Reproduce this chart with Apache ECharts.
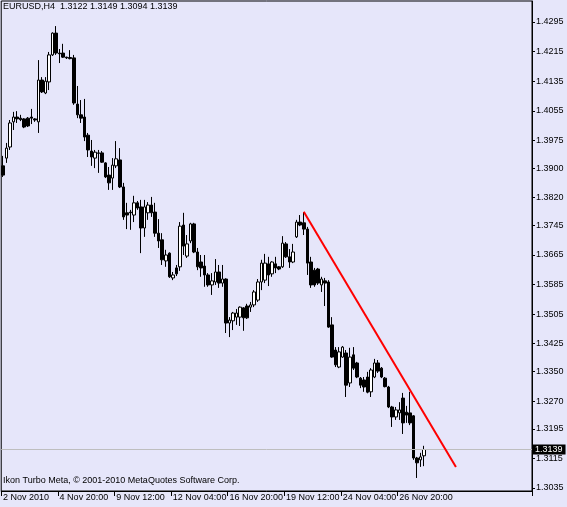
<!DOCTYPE html>
<html>
<head>
<meta charset="utf-8">
<script src="https://cdn.jsdelivr.net/npm/echarts@6/dist/echarts.min.js"></script>
<style>
html,body{margin:0;padding:0;background:#E6E6FA;}
#c{width:567px;height:507px;}
</style>
</head>
<body>
<div id="c"></div>
<script>
// ---- data (EURUSD, H4) ----
const symbolTitle = 'EURUSD,H4  1.3122 1.3149 1.3094 1.3139';
const copyrightText = 'Ikon Turbo Meta, \u00A9 2001-2010 MetaQuotes Software Corp.';

const opens = [
1.3906,1.3927,1.3957,1.4025,1.4038,1.4035,1.4033,1.4035,1.4038,1.4033,
1.4025,1.4138,1.4103,1.4133,1.4206,1.4265,1.4211,1.4211,1.4200,1.4199,
1.4198,1.4073,1.4044,1.4038,1.3989,1.3946,1.3927,1.3941,1.3941,1.3914,
1.3881,1.3873,1.3906,1.3922,1.3849,1.3779,1.3781,1.3773,1.3806,1.3795,
1.3738,1.3779,1.3800,1.3781,1.3724,1.3706,1.3649,1.3670,1.3603,1.3630,
1.3633,1.3746,1.3662,1.3703,1.3749,1.3673,1.3646,1.3635,1.3611,1.3584,
1.3592,1.3619,1.3589,1.3600,1.3481,1.3487,1.3497,1.3497,1.3522,1.3527,
1.3524,1.3530,1.3543,1.3592,1.3597,1.3641,1.3614,1.3641,1.3633,1.3633,
1.3695,1.3660,1.3646,1.3714,1.3754,1.3752,1.3735,1.3646,1.3624,1.3627,
1.3584,1.3595,1.3592,1.3476,1.3408,1.3362,1.3389,1.3400,1.3319,1.3395,
1.3373,1.3332,1.3327,1.3335,1.3295,1.3335,1.3373,1.3359,1.3332,1.3308,
1.3254,1.3227,1.3238,1.3278,1.3240,1.3238,1.3230,1.3116,1.3111,1.3122];
const highs = [
1.3933,1.3968,1.4030,1.4052,1.4054,1.4044,1.4035,1.4038,1.4060,1.4035,
1.4192,1.4146,1.4146,1.4214,1.4267,1.4284,1.4222,1.4236,1.4201,1.4219,
1.4206,1.4122,1.4084,1.4087,1.3995,1.3976,1.3949,1.3949,1.3946,1.3916,
1.3903,1.3927,1.3973,1.3954,1.3860,1.3806,1.3787,1.3825,1.3811,1.3814,
1.3814,1.3808,1.3822,1.3806,1.3762,1.3724,1.3679,1.3672,1.3619,1.3638,
1.3754,1.3779,1.3719,1.3752,1.3752,1.3684,1.3665,1.3665,1.3616,1.3616,
1.3654,1.3638,1.3638,1.3602,1.3497,1.3511,1.3519,1.3526,1.3524,1.3533,
1.3538,1.3570,1.3600,1.3652,1.3668,1.3660,1.3648,1.3660,1.3635,1.3716,
1.3700,1.3681,1.3695,1.3760,1.3773,1.3781,1.3741,1.3660,1.3630,1.3630,
1.3606,1.3603,1.3597,1.3497,1.3416,1.3416,1.3419,1.3408,1.3414,1.3416,
1.3376,1.3335,1.3335,1.3349,1.3359,1.3384,1.3381,1.3362,1.3335,1.3311,
1.3257,1.3254,1.3267,1.3292,1.3257,1.3295,1.3232,1.3119,1.3130,1.3149];
const lows = [
1.3876,1.3914,1.3949,1.4003,1.4022,1.4027,1.4008,1.4011,1.4019,1.4025,
1.3995,1.4103,1.4100,1.4111,1.4203,1.4206,1.4184,1.4198,1.4195,1.4194,
1.4071,1.4035,1.4022,1.3973,1.3930,1.3906,1.3900,1.3887,1.3914,1.3873,
1.3841,1.3841,1.3900,1.3846,1.3760,1.3735,1.3733,1.3754,1.3787,1.3670,
1.3714,1.3760,1.3768,1.3714,1.3684,1.3638,1.3633,1.3603,1.3597,1.3608,
1.3622,1.3665,1.3657,1.3697,1.3670,1.3624,1.3606,1.3579,1.3579,1.3557,
1.3584,1.3576,1.3579,1.3454,1.3443,1.3462,1.3476,1.3473,1.3460,1.3492,
1.3511,1.3524,1.3538,1.3570,1.3589,1.3581,1.3606,1.3616,1.3624,1.3630,
1.3657,1.3630,1.3643,1.3711,1.3743,1.3719,1.3611,1.3576,1.3579,1.3584,
1.3565,1.3527,1.3468,1.3387,1.3362,1.3359,1.3387,1.3281,1.3308,1.3354,
1.3332,1.3305,1.3295,1.3291,1.3281,1.3332,1.3346,1.3332,1.3307,1.3251,
1.3200,1.3219,1.3219,1.3181,1.3211,1.3205,1.3111,1.3062,1.3092,1.3094];
const closes = [
1.3881,1.3954,1.4022,1.4038,1.4033,1.4031,1.4011,1.4014,1.4035,1.4030,
1.4138,1.4106,1.4135,1.4206,1.4265,1.4211,1.4209,1.4200,1.4198,1.4196,
1.4076,1.4044,1.4035,1.3984,1.3949,1.3930,1.3943,1.3940,1.3916,1.3876,
1.3860,1.3908,1.3925,1.3849,1.3768,1.3773,1.3779,1.3806,1.3792,1.3738,
1.3795,1.3800,1.3779,1.3724,1.3703,1.3652,1.3665,1.3606,1.3611,1.3614,
1.3743,1.3689,1.3695,1.3749,1.3673,1.3633,1.3630,1.3611,1.3584,1.3595,
1.3619,1.3589,1.3600,1.3481,1.3489,1.3508,1.3508,1.3524,1.3495,1.3495,
1.3530,1.3565,1.3592,1.3643,1.3643,1.3611,1.3646,1.3630,1.3627,1.3697,
1.3660,1.3646,1.3673,1.3754,1.3746,1.3735,1.3643,1.3584,1.3584,1.3589,
1.3600,1.3589,1.3470,1.3389,1.3368,1.3403,1.3416,1.3313,1.3389,1.3359,
1.3335,1.3313,1.3308,1.3294,1.3354,1.3373,1.3351,1.3335,1.3309,1.3254,
1.3227,1.3246,1.3246,1.3211,1.3232,1.3211,1.3116,1.3103,1.3119,1.3139];

const lastPrice = 1.3139;
const trendBars = [85, 128];
const trendPrices = [1.3782, 1.3092];

const yTickValues = [1.4295,1.4215,1.4135,1.4055,1.3975,1.3900,1.3820,1.3745,
                     1.3665,1.3585,1.3505,1.3425,1.3350,1.3270,1.3195,1.3115,1.3035];
const xTickIndex  = [0,16,32,48,64,80,96,112];
const xTickLabels = ['2 Nov 2010','4 Nov 20:00','9 Nov 12:00','12 Nov 04:00',
                     '16 Nov 20:00','19 Nov 12:00','24 Nov 04:00','26 Nov 20:00'];

// H4 bar times (weekdays only), starting 2 Nov 2010 04:00, incl. empty future slots
const months = ['Jan','Feb','Mar','Apr','May','Jun','Jul','Aug','Sep','Oct','Nov','Dec'];
const categories = [];
{
  let t = Date.UTC(2010, 10, 2, 4, 0);
  while (categories.length < 150) {
    const d = new Date(t);
    const wd = d.getUTCDay();
    if (wd !== 0 && wd !== 6) {
      categories.push(d.getUTCDate() + ' ' + months[d.getUTCMonth()] + ' ' +
        String(d.getUTCHours()).padStart(2, '0') + ':00');
    }
    t += 4 * 3600 * 1000;
  }
}

const candleData = opens.map((o, i) => [o, closes[i], lows[i], highs[i]]);
const tickMap = {};
xTickIndex.forEach((k, i) => { tickMap[k] = xTickLabels[i]; });

const FONT = 'Liberation Sans';
const chart = echarts.init(document.getElementById('c'), null, {renderer: 'canvas'});
chart.setOption({
  animation: false,
  backgroundColor: '#E6E6FA',
  grid: {left: 1, top: 1, right: 35, bottom: 16, show: true, borderColor: '#000', borderWidth: 1},
  xAxis: {
    type: 'category',
    data: categories,
    boundaryGap: true,
    axisLine: {lineStyle: {color: '#000', width: 1}},
    axisTick: {show: true, length: 5, interval: (idx) => tickMap[idx] !== undefined,
               lineStyle: {color: '#000'}},
    axisLabel: {
      interval: (idx) => tickMap[idx] !== undefined,
      formatter: (v, idx) => tickMap[idx] || '',
      align: 'left', margin: 2, fontSize: 9, fontFamily: FONT, color: '#000'
    },
    splitLine: {show: false}
  },
  yAxis: {
    type: 'value',
    position: 'right',
    min: 1.30268,
    max: 1.43518,
    axisLine: {show: true, lineStyle: {color: '#000', width: 1}},
    axisTick: {show: true, length: 3, customValues: yTickValues, lineStyle: {color: '#000'}},
    axisLabel: {customValues: yTickValues, formatter: (v) => v.toFixed(4),
                margin: 4, fontSize: 9, fontFamily: FONT, color: '#000'},
    splitLine: {show: false}
  },
  series: [
    {
      type: 'candlestick',
      data: candleData,
      barWidth: 3,
      itemStyle: {color: '#FFFFFF', color0: '#000000', borderColor: '#000000',
                  borderColor0: '#000000', borderWidth: 1},
      z: 2
    },
    {
      type: 'line',
      data: trendBars.map((b, i) => [b, trendPrices[i]]),
      symbol: 'none',
      lineStyle: {color: '#FF0000', width: 2},
      markLine: {
        silent: true,
        precision: 4,
        symbol: ['none', 'none'],
        lineStyle: {color: '#BEBEBE', width: 1, type: 'solid'},
        label: {position: 'end', distance: 1, formatter: lastPrice.toFixed(4),
                backgroundColor: '#000', color: '#fff', fontSize: 9, fontFamily: FONT,
                padding: [1, 3, 0, 2]},
        data: [{yAxis: lastPrice}]
      },
      z: 5
    }
  ],
  graphic: [
    {type: 'text', left: 3, top: 2,
     style: {text: symbolTitle, font: '9px "Liberation Sans"', fill: '#000'}},
    {type: 'text', left: 3, top: 476,
     style: {text: copyrightText, font: '9px "Liberation Sans"', fill: '#000'}}
  ]
});
</script>
</body>
</html>
